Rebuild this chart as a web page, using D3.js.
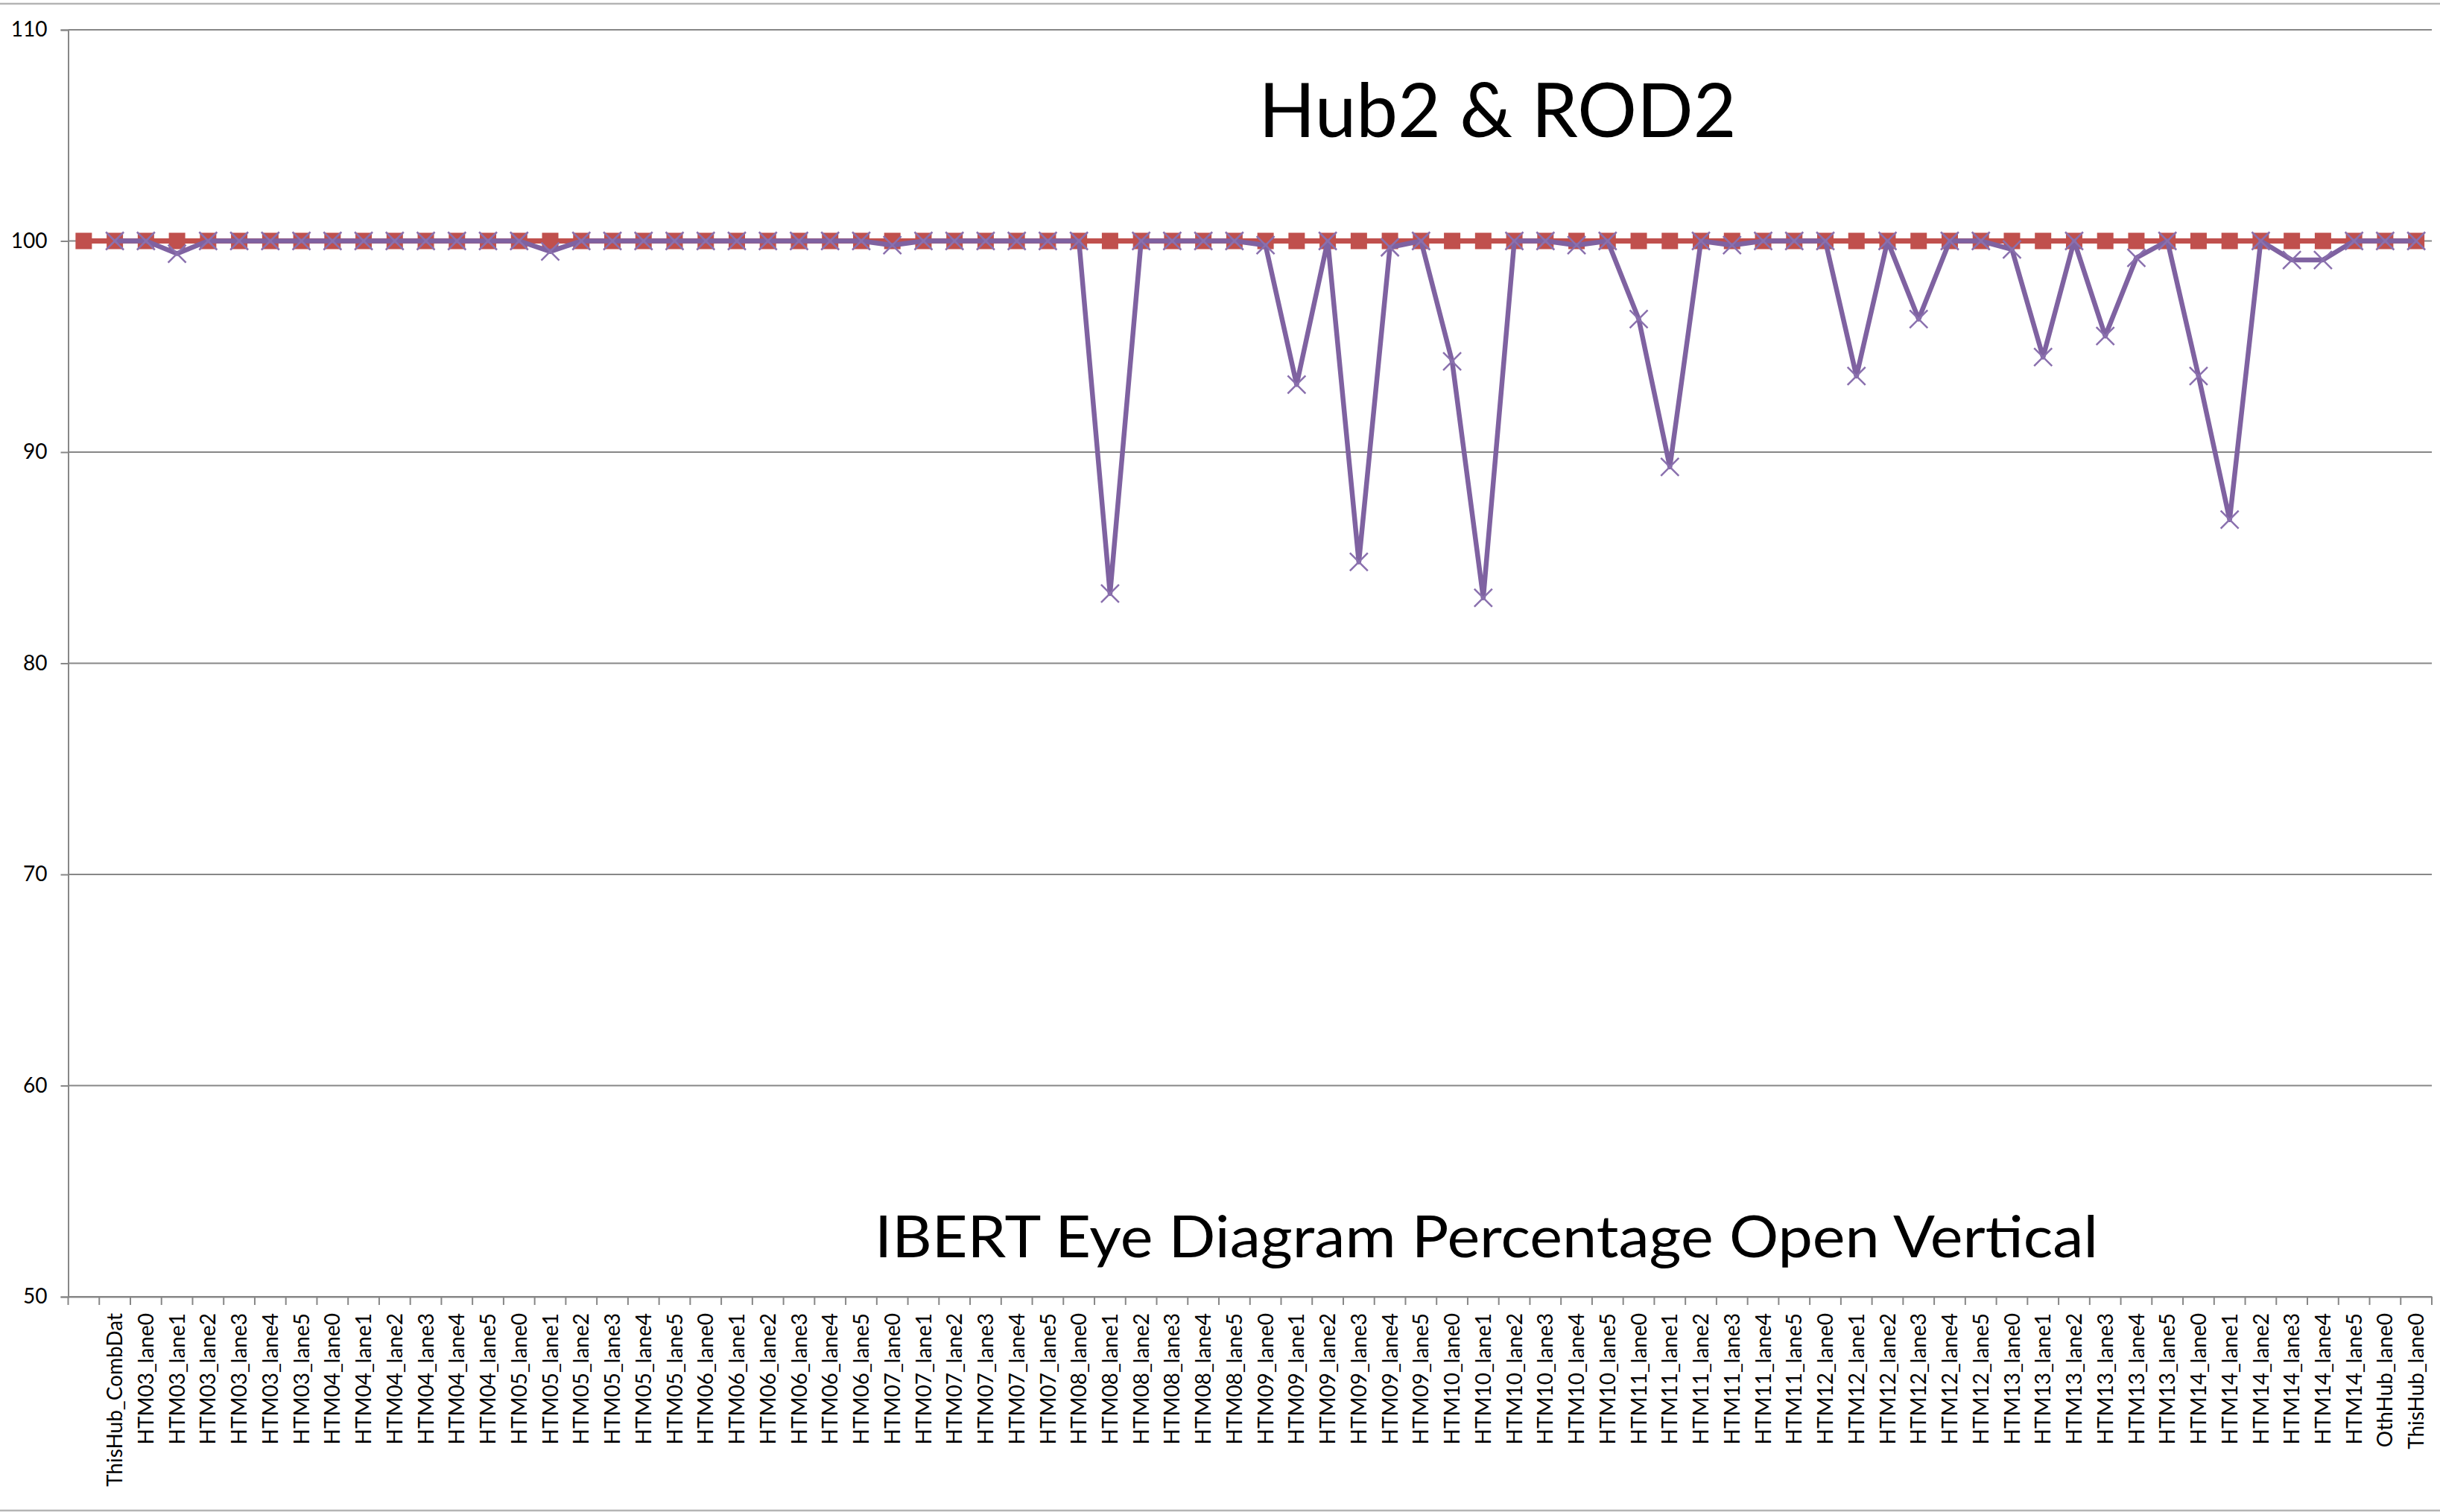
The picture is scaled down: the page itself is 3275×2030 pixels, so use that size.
<!DOCTYPE html>
<html>
<head>
<meta charset="utf-8">
<script src="https://cdn.jsdelivr.net/npm/d3@7/dist/d3.min.js"></script>
<style>
  body { margin: 0; background: #fff; }
  svg { display: block; }
</style>
</head>
<body>
<script>
// category labels (first slot has no label in the sheet)
const categories = [
  '', 'ThisHub_CombDat',
  'HTM03_lane0', 'HTM03_lane1', 'HTM03_lane2', 'HTM03_lane3', 'HTM03_lane4', 'HTM03_lane5',
  'HTM04_lane0', 'HTM04_lane1', 'HTM04_lane2', 'HTM04_lane3', 'HTM04_lane4', 'HTM04_lane5',
  'HTM05_lane0', 'HTM05_lane1', 'HTM05_lane2', 'HTM05_lane3', 'HTM05_lane4', 'HTM05_lane5',
  'HTM06_lane0', 'HTM06_lane1', 'HTM06_lane2', 'HTM06_lane3', 'HTM06_lane4', 'HTM06_lane5',
  'HTM07_lane0', 'HTM07_lane1', 'HTM07_lane2', 'HTM07_lane3', 'HTM07_lane4', 'HTM07_lane5',
  'HTM08_lane0', 'HTM08_lane1', 'HTM08_lane2', 'HTM08_lane3', 'HTM08_lane4', 'HTM08_lane5',
  'HTM09_lane0', 'HTM09_lane1', 'HTM09_lane2', 'HTM09_lane3', 'HTM09_lane4', 'HTM09_lane5',
  'HTM10_lane0', 'HTM10_lane1', 'HTM10_lane2', 'HTM10_lane3', 'HTM10_lane4', 'HTM10_lane5',
  'HTM11_lane0', 'HTM11_lane1', 'HTM11_lane2', 'HTM11_lane3', 'HTM11_lane4', 'HTM11_lane5',
  'HTM12_lane0', 'HTM12_lane1', 'HTM12_lane2', 'HTM12_lane3', 'HTM12_lane4', 'HTM12_lane5',
  'HTM13_lane0', 'HTM13_lane1', 'HTM13_lane2', 'HTM13_lane3', 'HTM13_lane4', 'HTM13_lane5',
  'HTM14_lane0', 'HTM14_lane1', 'HTM14_lane2', 'HTM14_lane3', 'HTM14_lane4', 'HTM14_lane5',
  'OthHub_lane0', 'ThisHub_lane0'
];

// reference series (red squares)
const reference = [
  100, 100,
  100, 100, 100, 100, 100, 100,
  100, 100, 100, 100, 100, 100,
  100, 100, 100, 100, 100, 100,
  100, 100, 100, 100, 100, 100,
  100, 100, 100, 100, 100, 100,
  100, 100, 100, 100, 100, 100,
  100, 100, 100, 100, 100, 100,
  100, 100, 100, 100, 100, 100,
  100, 100, 100, 100, 100, 100,
  100, 100, 100, 100, 100, 100,
  100, 100, 100, 100, 100, 100,
  100, 100, 100, 100, 100, 100,
  100, 100
];

// measured eye opening (purple crosses)
const measured = [
  null, 100,
  100, 99.4, 100, 100, 100, 100,
  100, 100, 100, 100, 100, 100,
  100, 99.5, 100, 100, 100, 100,
  100, 100, 100, 100, 100, 100,
  99.8, 100, 100, 100, 100, 100,
  100, 83.3, 100, 100, 100, 100,
  99.8, 93.2, 100, 84.8, 99.7, 100,
  94.3, 83.1, 100, 100, 99.8, 100,
  96.3, 89.3, 100, 99.8, 100, 100,
  100, 93.6, 100, 96.3, 100, 100,
  99.6, 94.5, 100, 95.5, 99.2, 100,
  93.6, 86.8, 100, 99.1, 99.1, 100,
  100, 100
];

const yTicks = [50, 60, 70, 80, 90, 100, 110];

const title = 'Hub2 & ROD2';
const subtitle = 'IBERT Eye Diagram Percentage Open Vertical';

const width = 3275, height = 2030;
const plot = { left: 91.5, right: 3264, top: 40, bottom: 1741 };
const font = 'Lato, "Liberation Sans", sans-serif';

const svg = d3.select('body').append('svg')
  .attr('width', width)
  .attr('height', height);

// outer chart border
svg.append('rect')
  .attr('x', -2).attr('y', 5)
  .attr('width', width + 4).attr('height', height - 7)
  .attr('fill', '#fff')
  .attr('stroke', '#b4b4b4')
  .attr('stroke-width', 2.5);

const x = d3.scaleBand()
  .domain(d3.range(categories.length))
  .range([plot.left, plot.right])
  .padding(0);

const y = d3.scaleLinear()
  .domain([50, 110])
  .range([plot.bottom, plot.top]);

const cx = i => x(i) + x.bandwidth() / 2;

// gridlines
svg.append('g')
  .selectAll('line')
  .data(yTicks)
  .join('line')
  .attr('x1', plot.left).attr('x2', plot.right)
  .attr('y1', d => y(d)).attr('y2', d => y(d))
  .attr('stroke', '#878787')
  .attr('stroke-width', 2);

// y axis
const yAxis = svg.append('g')
  .attr('transform', `translate(${plot.left},0)`)
  .call(d3.axisLeft(y).tickValues(yTicks).tickSize(10).tickPadding(18));
yAxis.select('.domain').attr('stroke', '#878787').attr('stroke-width', 2);
yAxis.selectAll('.tick line').attr('stroke', '#878787').attr('stroke-width', 2);
yAxis.selectAll('.tick text')
  .attr('font-family', font)
  .attr('font-size', 28)
  .attr('fill', '#000');

// x axis: labels at band centres, tick marks on band edges
const xAxis = svg.append('g')
  .attr('transform', `translate(0,${plot.bottom})`)
  .call(d3.axisBottom(x).tickSize(0).tickFormat(i => categories[i]));
xAxis.select('.domain').attr('stroke', '#878787').attr('stroke-width', 2);
xAxis.selectAll('.tick text')
  .attr('font-family', font)
  .attr('font-size', 28)
  .attr('fill', '#000')
  .attr('text-anchor', 'end')
  .attr('transform', 'rotate(-90)')
  .attr('x', -22)
  .attr('y', 0)
  .attr('dy', '0.36em');

xAxis.append('g')
  .selectAll('line')
  .data(d3.range(categories.length + 1))
  .join('line')
  .attr('x1', i => i < categories.length ? x(i) : plot.right)
  .attr('x2', i => i < categories.length ? x(i) : plot.right)
  .attr('y1', 0).attr('y2', 11)
  .attr('stroke', '#878787')
  .attr('stroke-width', 2);

// red reference series
const line = d3.line()
  .defined(d => d != null)
  .x((d, i) => cx(i))
  .y(d => y(d));

svg.append('path')
  .datum(reference)
  .attr('fill', 'none')
  .attr('stroke', '#C0504D')
  .attr('stroke-width', 7)
  .attr('d', line);

svg.append('g')
  .selectAll('rect')
  .data(reference)
  .join('rect')
  .attr('x', (d, i) => cx(i) - 11)
  .attr('y', d => y(d) - 11)
  .attr('width', 22).attr('height', 22)
  .attr('fill', '#C0504D');

// purple measured series
svg.append('path')
  .datum(measured)
  .attr('fill', 'none')
  .attr('stroke', '#7F62A1')
  .attr('stroke-width', 6.5)
  .attr('stroke-linejoin', 'round')
  .attr('d', line);

const s = 12;
svg.append('g')
  .selectAll('path')
  .data(measured.map((v, i) => ({ v, i })).filter(d => d.v != null))
  .join('path')
  .attr('d', d => {
    const px = cx(d.i), py = y(d.v);
    return `M${px - s},${py - s}L${px + s},${py + s}M${px - s},${py + s}L${px + s},${py - s}`;
  })
  .attr('stroke', '#8A70AE')
  .attr('stroke-width', 2.5)
  .attr('fill', 'none');

// chart texts
svg.append('text')
  .attr('x', 2010).attr('y', 184)
  .attr('text-anchor', 'middle')
  .attr('font-family', font)
  .attr('font-size', 100)
  .attr('textLength', 641)
  .attr('lengthAdjust', 'spacingAndGlyphs')
  .text(title);

svg.append('text')
  .attr('x', 1995).attr('y', 1688)
  .attr('text-anchor', 'middle')
  .attr('font-family', font)
  .attr('font-size', 78)
  .attr('textLength', 1642)
  .attr('lengthAdjust', 'spacingAndGlyphs')
  .text(subtitle);
</script>
</body>
</html>
